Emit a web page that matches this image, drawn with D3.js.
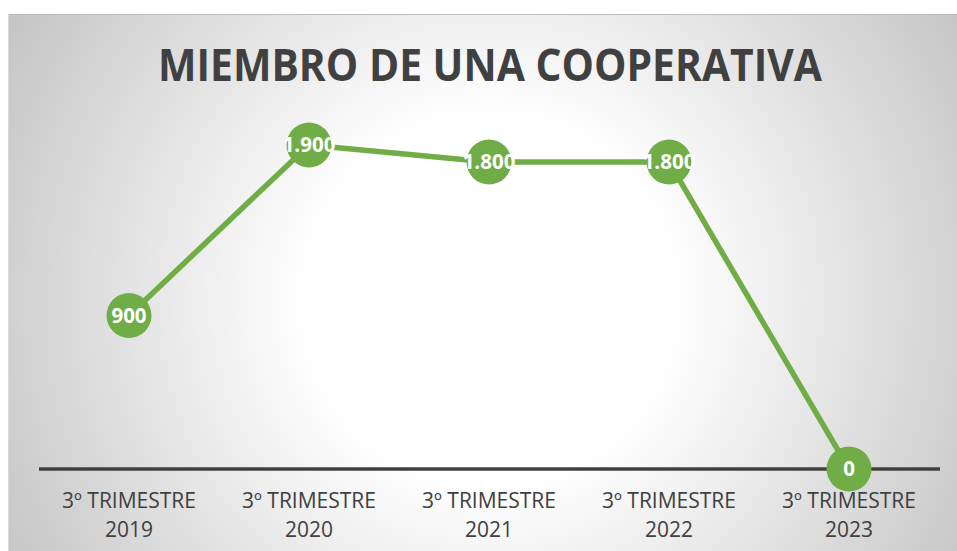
<!DOCTYPE html>
<html><head><meta charset="utf-8">
<script src="https://cdn.jsdelivr.net/npm/d3@7"></script>
<style>html,body{margin:0;padding:0;background:#fff;}svg{display:block;}</style>
</head><body>
<script>
const title = "MIEMBRO DE UNA COOPERATIVA";
const categories = [["3º TRIMESTRE","2019"],["3º TRIMESTRE","2020"],["3º TRIMESTRE","2021"],["3º TRIMESTRE","2022"],["3º TRIMESTRE","2023"]];
const values = [900, 1900, 1800, 1800, 0];
const labels = ["900","1.900","1.800","1.800","0"];

const W = 957, H = 551;
const svg = d3.select("body").append("svg").attr("width", W).attr("height", H);
const defs = svg.append("defs");
const g = defs.append("radialGradient").attr("id","bg").attr("gradientUnits","userSpaceOnUse")
  .attr("cx",490).attr("cy",300).attr("r",560);
g.append("stop").attr("offset","0").attr("stop-color","#ffffff");
g.append("stop").attr("offset","0.33").attr("stop-color","#ffffff");
g.append("stop").attr("offset","1").attr("stop-color","#c4c4c4");

svg.append("rect").attr("x",8).attr("y",14).attr("width",W-8).attr("height",H-14).attr("fill","url(#bg)");
svg.append("line").attr("x1",8).attr("x2",W).attr("y1",14.5).attr("y2",14.5).attr("stroke","#bdbdbd").attr("stroke-width",1);
svg.append("line").attr("x1",8.5).attr("x2",8.5).attr("y1",14).attr("y2",H).attr("stroke","#d9d9d9").attr("stroke-width",1);

svg.append("text").text(title).attr("x",490).attr("y",81).attr("text-anchor","middle")
  .attr("font-family","Open Sans").attr("font-weight","bold").attr("font-size",44).attr("fill","#404040")
  .attr("textLength",664).attr("lengthAdjust","spacingAndGlyphs");

const x = d3.scalePoint().domain(d3.range(categories.length)).range([129,849]);
const y = d3.scaleLinear().domain([0,1800]).range([469,162]);

const axis = d3.axisBottom(x).tickSize(0).tickFormat("");
const ax = svg.append("g").attr("transform","translate(0,469)").call(axis);
ax.select(".domain").remove();
svg.append("line").attr("x1",39).attr("x2",940).attr("y1",469).attr("y2",469).attr("stroke","#404040").attr("stroke-width",3.5);

const tl = svg.append("g");
categories.forEach((c,i)=>{
  const t = tl.append("text").attr("text-anchor","middle").attr("font-family","Open Sans").attr("font-size",21).attr("fill","#404040");
  t.append("tspan").attr("x",x(i)).attr("y",508).text(c[0]);
  t.append("tspan").attr("x",x(i)).attr("y",537).text(c[1]);
});

const line = d3.line().x((d,i)=>x(i)).y(d=>y(d));
svg.append("path").datum(values).attr("d",line).attr("fill","none").attr("stroke","#70AD47").attr("stroke-width",5.5).attr("stroke-linejoin","round");

svg.append("g").selectAll("circle").data(values).join("circle")
  .attr("cx",(d,i)=>x(i)).attr("cy",d=>y(d)).attr("r",22.5).attr("fill","#70AD47");

svg.append("g").selectAll("text").data(values).join("text")
  .attr("x",(d,i)=>x(i)).attr("y",d=>y(d)).attr("dy","0.36em").attr("text-anchor","middle")
  .attr("font-family","Open Sans").attr("font-weight","bold").attr("font-size",20.5).attr("fill","#ffffff")
  .text((d,i)=>labels[i]);
</script>
</body></html>
